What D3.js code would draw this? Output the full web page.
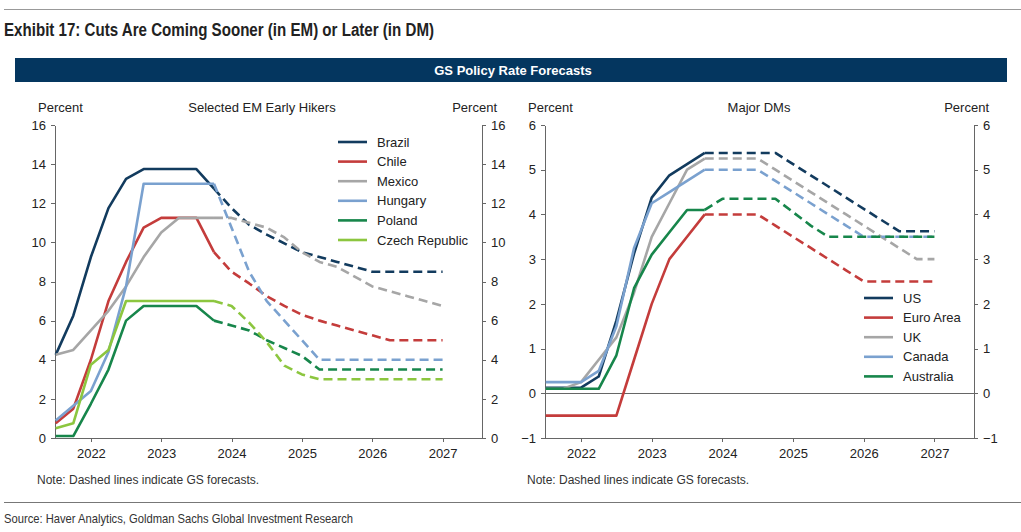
<!DOCTYPE html>
<html lang="en">
<head>
<meta charset="utf-8">
<title>GS Policy Rate Forecasts</title>
<script src="https://cdn.jsdelivr.net/npm/d3@7"></script>
<style>
  body { margin: 0; background: #fff; }
  text { font-family: "Liberation Sans", Arial, sans-serif; fill: #222; }
  .axis path, .axis line { stroke: #666; fill: none; shape-rendering: crispEdges; }
  .axis text { font-size: 13px; fill: #222; font-family: "Liberation Sans", Arial, sans-serif; }
  .title { font-family: "Liberation Sans Narrow", "Arial Narrow", "Liberation Sans", sans-serif; font-weight: bold; font-size: 18px; }
  .source { font-family: "Liberation Sans Narrow", "Arial Narrow", "Liberation Sans", sans-serif; font-size: 13px; fill: #333; }
  .banner { font-weight: bold; font-size: 13px; fill: #fff; }
  .label { font-size: 13px; }
  .note { font-size: 12px; fill: #333; }
  .series { fill: none; stroke-width: 2.6; stroke-linejoin: round; }
</style>
</head>
<body>
<script>
// quarterly observations, history to Q3 2023 then GS forecasts
var quarters = [2021.5, 2021.75, 2022.0, 2022.25, 2022.5, 2022.75, 2023.0, 2023.25, 2023.5, 2023.75,
                2024.0, 2024.25, 2024.5, 2024.75, 2025.0, 2025.25, 2025.5, 2025.75, 2026.0, 2026.25,
                2026.5, 2026.75, 2027.0];
var forecastFrom = 2023.75;
var yearTicks = [2022, 2023, 2024, 2025, 2026, 2027];

// Selected EM early hikers
var brazil  = [4.25, 6.25, 9.25, 11.75, 13.25, 13.75, 13.75, 13.75, 13.75, 12.75, 11.75, 10.9, 10.4, 9.95, 9.5, 9.25, 9.0, 8.75, 8.5, 8.5, 8.5, 8.5, 8.5];
var chile   = [0.75, 1.5, 4.0, 7.0, 9.0, 10.75, 11.25, 11.25, 11.25, 9.5, 8.5, 7.9, 7.25, 6.75, 6.3, 6.0, 5.75, 5.5, 5.25, 5.0, 5.0, 5.0, 5.0];
var mexico  = [4.25, 4.5, 5.5, 6.5, 7.75, 9.25, 10.5, 11.25, 11.25, 11.25, 11.25, 11.0, 10.75, 10.25, 9.5, 9.0, 8.75, 8.25, 7.75, 7.5, 7.25, 7.0, 6.75];
var hungary = [0.9, 1.65, 2.4, 4.4, 7.75, 13.0, 13.0, 13.0, 13.0, 13.0, 10.75, 8.5, 7.0, 6.0, 5.0, 4.0, 4.0, 4.0, 4.0, 4.0, 4.0, 4.0, 4.0];
var poland  = [0.1, 0.1, 1.75, 3.5, 6.0, 6.75, 6.75, 6.75, 6.75, 6.0, 5.75, 5.5, 5.0, 4.6, 4.2, 3.5, 3.5, 3.5, 3.5, 3.5, 3.5, 3.5, 3.5];
var czech   = [0.5, 0.75, 3.75, 4.5, 7.0, 7.0, 7.0, 7.0, 7.0, 7.0, 6.75, 5.9, 4.9, 3.7, 3.25, 3.0, 3.0, 3.0, 3.0, 3.0, 3.0, 3.0, 3.0];

// Major DMs
var us        = [0.125, 0.125, 0.125, 0.375, 1.625, 3.125, 4.375, 4.875, 5.125, 5.375, 5.375, 5.375, 5.375, 5.375, 5.125, 4.875, 4.625, 4.375, 4.125, 3.875, 3.625, 3.625, 3.625];
var euroArea  = [-0.5, -0.5, -0.5, -0.5, -0.5, 0.75, 2.0, 3.0, 3.5, 4.0, 4.0, 4.0, 4.0, 3.75, 3.5, 3.25, 3.0, 2.75, 2.5, 2.5, 2.5, 2.5, 2.5];
var uk        = [0.1, 0.1, 0.25, 0.75, 1.25, 2.25, 3.5, 4.25, 5.0, 5.25, 5.25, 5.25, 5.25, 5.0, 4.75, 4.5, 4.25, 4.0, 3.75, 3.5, 3.25, 3.0, 3.0];
var canada    = [0.25, 0.25, 0.25, 0.5, 1.5, 3.25, 4.25, 4.5, 4.75, 5.0, 5.0, 5.0, 5.0, 4.75, 4.5, 4.25, 4.0, 3.75, 3.5, 3.5, 3.5, 3.5, 3.5];
var australia = [0.1, 0.1, 0.1, 0.1, 0.85, 2.35, 3.1, 3.6, 4.1, 4.1, 4.35, 4.35, 4.35, 4.35, 4.05, 3.75, 3.5, 3.5, 3.5, 3.5, 3.5, 3.5, 3.5];

var emNames = ["Brazil", "Chile", "Mexico", "Hungary", "Poland", "Czech Republic"];
var emSeries = [brazil, chile, mexico, hungary, poland, czech];
var emColors = ["#123b5e", "#c43c3b", "#a6a6a6", "#7aa1cf", "#17864b", "#8cc63f"];
var emTicks = [0, 2, 4, 6, 8, 10, 12, 14, 16];

var dmNames = ["US", "Euro Area", "UK", "Canada", "Australia"];
var dmSeries = [us, euroArea, uk, canada, australia];
var dmColors = ["#123b5e", "#c43c3b", "#a6a6a6", "#7aa1cf", "#17864b"];
var dmTicks = [-1, 0, 1, 2, 3, 4, 5, 6];

var W = 1021, H = 532;
var svg = d3.select("body").append("svg")
  .attr("width", W)
  .attr("height", H);

// header
svg.append("line")
  .attr("x1", 4).attr("x2", W).attr("y1", 9.5).attr("y2", 9.5)
  .style("stroke", "#999").style("stroke-width", 1);

svg.append("text")
  .attr("class", "title")
  .attr("x", 4).attr("y", 36)
  .attr("textLength", 430)
  .attr("lengthAdjust", "spacingAndGlyphs")
  .text("Exhibit 17: Cuts Are Coming Sooner (in EM) or Later (in DM)");

svg.append("rect")
  .attr("x", 15).attr("y", 58)
  .attr("width", 992).attr("height", 24)
  .style("fill", "#04365f");

svg.append("text")
  .attr("class", "banner")
  .attr("x", 513).attr("y", 75)
  .attr("text-anchor", "middle")
  .text("GS Policy Rate Forecasts");

// footer
svg.append("line")
  .attr("x1", 4).attr("x2", W).attr("y1", 502.5).attr("y2", 502.5)
  .style("stroke", "#777").style("stroke-width", 1);

svg.append("text")
  .attr("class", "source")
  .attr("x", 4).attr("y", 523)
  .attr("textLength", 349)
  .attr("lengthAdjust", "spacingAndGlyphs")
  .text("Source: Haver Analytics, Goldman Sachs Global Investment Research");

function drawPanel(cfg) {
  var x = d3.scaleLinear()
    .domain([2021.49, 2027.56])
    .range([cfg.left, cfg.right]);

  var y = d3.scaleLinear()
    .domain(d3.extent(cfg.ticks))
    .range([438, 125]);

  var g = svg.append("g");

  // zero line
  if (cfg.zeroLine) {
    g.append("line")
      .attr("x1", cfg.left).attr("x2", cfg.right)
      .attr("y1", Math.round(y(0)) + 0.5).attr("y2", Math.round(y(0)) + 0.5)
      .style("stroke", "#666").style("stroke-width", 1);
  }

  var fmt = d3.format("d");

  g.append("g")
    .attr("class", "axis")
    .attr("transform", "translate(" + cfg.left + ",0)")
    .call(d3.axisLeft(y).tickValues(cfg.ticks).tickFormat(fmt)
      .tickSize(4).tickPadding(5).tickSizeOuter(0));

  g.append("g")
    .attr("class", "axis")
    .attr("transform", "translate(" + cfg.right + ",0)")
    .call(d3.axisRight(y).tickValues(cfg.ticks).tickFormat(fmt)
      .tickSize(4).tickPadding(5).tickSizeOuter(0));

  g.append("g")
    .attr("class", "axis")
    .attr("transform", "translate(0,438)")
    .call(d3.axisBottom(x).tickValues(yearTicks).tickFormat(fmt)
      .tickSize(4).tickPadding(7).tickSizeOuter(0));

  // labels
  g.append("text").attr("class", "label")
    .attr("x", cfg.left - 17).attr("y", 112)
    .text("Percent");

  g.append("text").attr("class", "label")
    .attr("x", cfg.right + 15).attr("y", 112)
    .attr("text-anchor", "end")
    .text("Percent");

  g.append("text").attr("class", "label")
    .attr("x", cfg.titleX).attr("y", 112)
    .attr("text-anchor", "middle")
    .text(cfg.title);

  g.append("text").attr("class", "note")
    .attr("x", cfg.left - 18).attr("y", 484)
    .text("Note: Dashed lines indicate GS forecasts.");

  // lines
  var line = d3.line()
    .x(function(d) { return x(d[0]); })
    .y(function(d) { return y(d[1]); });

  cfg.series.forEach(function(vals, i) {
    var pts = quarters.map(function(q, j) { return [q, vals[j]]; });
    var hist = pts.filter(function(d) { return d[0] <= forecastFrom; });
    var fcst = pts.filter(function(d) { return d[0] >= forecastFrom; });

    g.append("path")
      .datum(fcst)
      .attr("class", "series")
      .attr("d", line)
      .style("stroke", cfg.colors[i])
      .style("stroke-dasharray", "9,5");

    g.append("path")
      .datum(hist)
      .attr("class", "series")
      .attr("d", line)
      .style("stroke", cfg.colors[i]);
  });

  // legend
  var legend = g.append("g")
    .attr("transform", "translate(" + cfg.legendX + "," + cfg.legendY + ")");

  cfg.names.forEach(function(name, i) {
    legend.append("line")
      .attr("x1", 0).attr("x2", 29)
      .attr("y1", i * 19.6).attr("y2", i * 19.6)
      .style("stroke", cfg.colors[i])
      .style("stroke-width", 2.6);

    legend.append("text")
      .attr("class", "label")
      .attr("x", 39).attr("y", i * 19.6 + 4.5)
      .text(name);
  });
}

drawPanel({
  left: 55, right: 482,
  ticks: emTicks,
  title: "Selected EM Early Hikers", titleX: 262,
  series: emSeries, names: emNames, colors: emColors,
  legendX: 338, legendY: 142,
  zeroLine: false
});

drawPanel({
  left: 545, right: 974,
  ticks: dmTicks,
  title: "Major DMs", titleX: 759,
  series: dmSeries, names: dmNames, colors: dmColors,
  legendX: 864, legendY: 298,
  zeroLine: true
});
</script>
</body>
</html>
